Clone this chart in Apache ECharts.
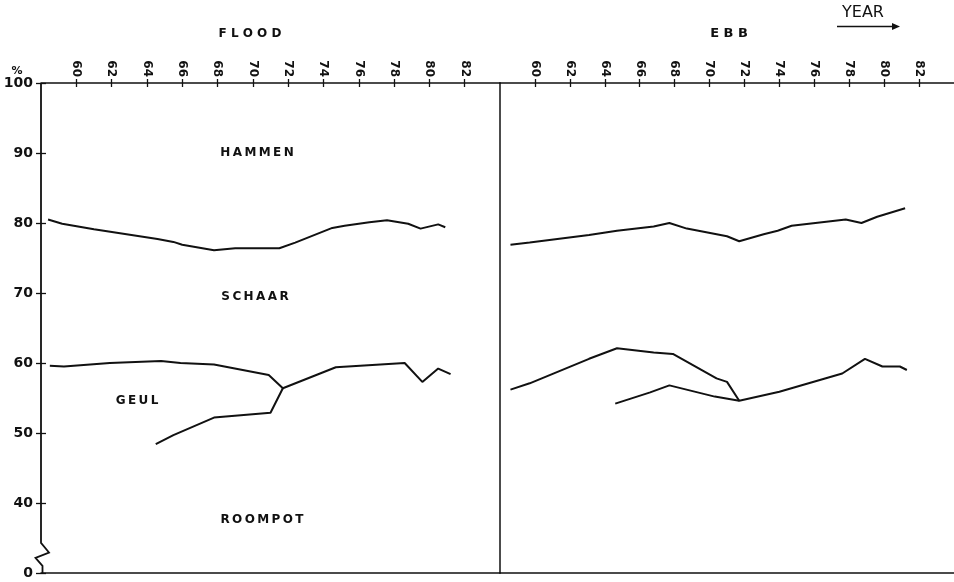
<!DOCTYPE html>
<html>
<head>
<meta charset="utf-8">
<title>Flood / Ebb distribution</title>
<script src="https://cdn.jsdelivr.net/npm/echarts@6/dist/echarts.min.js"></script>
<style>
  html, body { margin: 0; padding: 0; background: #fff; }
  #chart { width: 954px; height: 582px; }
</style>
</head>
<body>
<div id="chart"></div>
<script>
// Year axis (19xx) and percentage axis settings
const yearTicks = [60, 62, 64, 66, 68, 70, 72, 74, 76, 78, 80, 82];
const pctTicks = [0, 40, 50, 60, 70, 80, 90, 100];

// FLOOD: boundary HAMMEN / SCHAAR
const floodHammenSchaar = [
  [58.4, 80.5], [59.2, 79.9], [61.0, 79.1], [64.6, 77.7], [65.5, 77.3],
  [66.0, 76.9], [67.8, 76.1], [69.0, 76.4], [71.5, 76.4], [72.4, 77.2],
  [74.5, 79.3], [75.2, 79.6], [76.6, 80.1], [77.6, 80.4], [78.8, 79.9],
  [79.5, 79.2], [80.5, 79.8], [80.9, 79.4]
];
// FLOOD: boundary SCHAAR / GEUL (joins ROOMPOT after 1972)
const floodSchaarGeul = [
  [58.5, 59.6], [59.3, 59.5], [61.9, 60.0], [64.8, 60.3], [65.9, 60.0],
  [67.8, 59.8], [70.9, 58.3], [71.7, 56.4], [74.7, 59.4], [78.6, 60.0],
  [79.6, 57.3], [80.5, 59.2], [81.2, 58.4]
];
// FLOOD: boundary GEUL / ROOMPOT
const floodGeulRoompot = [
  [64.5, 48.4], [65.5, 49.7], [67.8, 52.2], [71.0, 52.9], [71.7, 56.4]
];

// EBB: boundary HAMMEN / SCHAAR
const ebbHammenSchaar = [
  [58.6, 76.9], [59.7, 77.2], [63.1, 78.3], [64.7, 78.9], [66.8, 79.5],
  [67.7, 80.0], [68.7, 79.2], [71.0, 78.1], [71.7, 77.4], [73.1, 78.4],
  [73.9, 78.9], [74.7, 79.6], [77.8, 80.5], [78.7, 80.0], [79.6, 80.9],
  [81.2, 82.1]
];
// EBB: boundary SCHAAR / GEUL
const ebbSchaarGeul = [
  [58.6, 56.2], [59.7, 57.1], [63.1, 60.6], [64.7, 62.1], [66.8, 61.5],
  [67.9, 61.3], [70.4, 57.8], [71.0, 57.3], [71.7, 54.6], [74.0, 55.9],
  [77.6, 58.5], [78.9, 60.6], [79.9, 59.5], [80.9, 59.5], [81.3, 59.0]
];
// EBB: boundary GEUL / ROOMPOT
const ebbGeulRoompot = [
  [64.6, 54.2], [66.6, 55.8], [67.7, 56.8], [70.3, 55.2], [71.7, 54.6]
];

const INK = '#111';
const FONT = 'DejaVu Sans';
// The percentage axis is broken between 0 and 30: the bottom of the scale carries the label 0.
const AXIS_BOTTOM = 30;
const HS = '\u200a'; // hair space used to open up the lettering

const chart = echarts.init(document.getElementById('chart'), null, { renderer: 'canvas' });

function yearAxis(gridIndex, withLabels, tickInside) {
  return {
    type: 'value', gridIndex, position: 'top', min: 58, max: 84, interval: 2,
    axisLine: { show: withLabels, lineStyle: { color: INK, width: 1.5 } },
    axisTick: {
      show: true, inside: tickInside, length: 4, customValues: yearTicks,
      lineStyle: { color: INK, width: 1.3 }
    },
    axisLabel: {
      show: withLabels, rotate: 90, margin: 6, color: INK,
      fontFamily: FONT, fontWeight: 'bold', fontSize: 12,
      customValues: yearTicks,
      formatter: v => String(v)
    },
    splitLine: { show: false }
  };
}
function bottomAxis(gridIndex) {
  return {
    type: 'value', gridIndex, position: 'bottom', min: 58, max: 84,
    axisLine: { show: true, lineStyle: { color: INK, width: 1.5 } },
    axisTick: { show: false }, axisLabel: { show: false }, splitLine: { show: false }
  };
}
function pctAxis(gridIndex, withLabels, tickInside, showLine) {
  return {
    type: 'value', gridIndex, position: 'left', min: AXIS_BOTTOM, max: 100, interval: 10,
    axisLine: { show: showLine, lineStyle: { color: INK, width: 1.5 } },
    axisTick: {
      show: withLabels || tickInside, inside: tickInside, length: 5,
      lineStyle: { color: INK, width: 1.3 }
    },
    axisLabel: {
      show: withLabels, margin: 8, color: INK,
      fontFamily: FONT, fontWeight: 'bold', fontSize: 14,
      formatter: v => {
        const shown = v === AXIS_BOTTOM ? 0 : v;
        return pctTicks.indexOf(shown) >= 0 ? String(shown) : '';
      }
    },
    splitLine: { show: false }
  };
}
function boundary(data, xi, yi) {
  return {
    type: 'line', data, xAxisIndex: xi, yAxisIndex: yi,
    symbol: 'none', smooth: false, silent: true,
    lineStyle: { color: INK, width: 2 }
  };
}

function spaced(word, sep) {
  return word.split('').join(sep);
}
function label(x, y, text, size, weight) {
  return {
    type: 'text', x, y,
    style: {
      text, fill: INK, font: (weight || 'bold') + ' ' + size + 'px "' + FONT + '"',
      textAlign: 'center', textVerticalAlign: 'middle'
    }
  };
}

const option = {
  backgroundColor: '#fff',
  animation: false,
  grid: [
    { left: 41, top: 83, width: 459, height: 490 },
    { left: 500, top: 83, width: 454, height: 490 }
  ],
  xAxis: [
    yearAxis(0, true, false), yearAxis(0, false, true), bottomAxis(0),
    yearAxis(1, true, false), yearAxis(1, false, true), bottomAxis(1)
  ],
  yAxis: [
    pctAxis(0, true, false, false), pctAxis(0, false, true, false),
    pctAxis(1, false, false, true)
  ],
  series: [
    boundary(floodHammenSchaar, 0, 0),
    boundary(floodSchaarGeul, 0, 0),
    boundary(floodGeulRoompot, 0, 0),
    boundary(ebbHammenSchaar, 3, 2),
    boundary(ebbSchaarGeul, 3, 2),
    boundary(ebbGeulRoompot, 3, 2)
  ],
  graphic: []
};

chart.setOption(option);

// Left percentage axis line with the break mark near its foot
const pTop = chart.convertToPixel({ xAxisIndex: 0, yAxisIndex: 0 }, [58, 100]);
const pBreak = chart.convertToPixel({ xAxisIndex: 0, yAxisIndex: 0 }, [58, 34.3]);
const pFoot = chart.convertToPixel({ xAxisIndex: 0, yAxisIndex: 0 }, [58, AXIS_BOTTOM]);
const x0 = pTop[0];
const span = pFoot[1] - pBreak[1];
const axisPath = [
  [x0, pTop[1]],
  [x0, pBreak[1]],
  [x0 + 8, pBreak[1] + span * 0.32],
  [x0 - 5.5, pBreak[1] + span * 0.5],
  [x0 + 1.5, pBreak[1] + span * 0.76],
  [x0 + 1.5, pFoot[1]]
];

chart.setOption({
  graphic: [
    {
      type: 'polyline', shape: { points: axisPath },
      style: { stroke: INK, lineWidth: 1.8, fill: null }
    },
    label(pTop[0] - 24, pTop[1] - 12, '%', 11),
    label(250, 34, spaced('FLOOD', ' '), 12),
    label(729, 34, spaced('EBB', ' '), 13),
    label(863, 13, 'YEAR', 16, 'normal'),
    {
      type: 'line', shape: { x1: 837, y1: 26.5, x2: 896, y2: 26.5 },
      style: { stroke: INK, lineWidth: 1.5 }
    },
    {
      type: 'polygon', shape: { points: [[900, 26.5], [892, 23], [892, 30]] },
      style: { fill: INK }
    },
    label(257, 153, spaced('HAMMEN', HS + HS), 12),
    label(255, 297, spaced('SCHAAR', HS + HS), 12),
    label(137, 401, spaced('GEUL', HS + HS), 12),
    label(262, 520, spaced('ROOMPOT', HS + HS), 12)
  ]
});
</script>
</body>
</html>
